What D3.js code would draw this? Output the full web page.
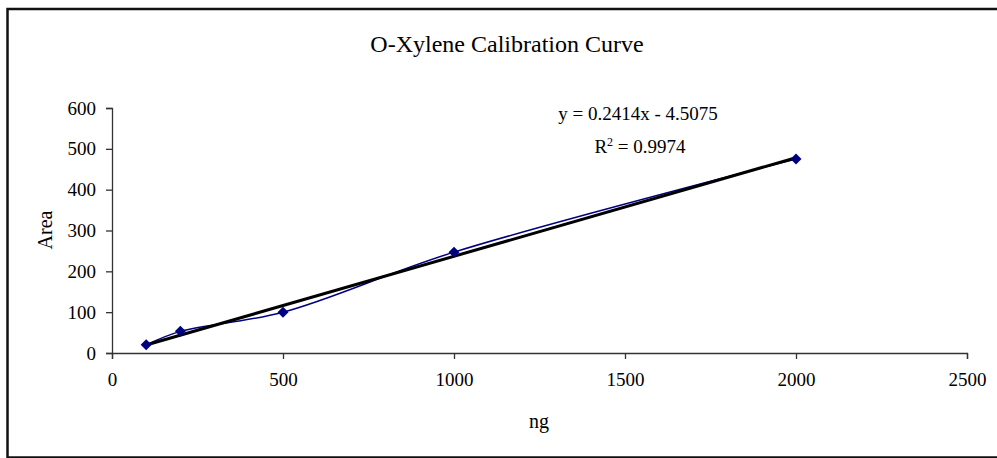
<!DOCTYPE html>
<html>
<head>
<meta charset="utf-8">
<script src="https://cdn.jsdelivr.net/npm/d3@7"></script>
<style>
  body { margin: 0; background: #fff; overflow: hidden; }
  text { font-family: "Liberation Serif", "Times New Roman", serif; fill: #000; }
</style>
</head>
<body>
<div id="chart"></div>
<script>
// Chart data
const ng = [100, 200, 500, 1000, 2000]
const area = [20, 53, 100, 247, 475]
const xTicks = [0, 500, 1000, 1500, 2000, 2500]
const yTicks = [0, 100, 200, 300, 400, 500, 600]
const slope = 0.2414, intercept = -4.5075
const title = 'O-Xylene Calibration Curve'

// Our canvas
const width = 997,
  height = 458

let svg = d3.select('#chart')
  .append('svg')
  .attr('width', width)
  .attr('height', height)

// outer frame (right edge falls outside the picture)
svg.append('rect')
  .attr('x', 7.5)
  .attr('y', 9)
  .attr('width', 1000)
  .attr('height', 448.5)
  .attr('fill', 'none')
  .attr('stroke', '#111')
  .attr('stroke-width', 2.5)

let x = d3.scaleLinear().domain([0, 2500]).range([112, 967])
let y = d3.scaleLinear().domain([0, 600]).range([353, 108])

// axes
svg.append('g')
  .attr('transform', 'translate(0,353)')
  .call(d3.axisBottom(x).tickValues(xTicks).tickSize(6).tickPadding(14).tickFormat(d3.format('d')))
svg.append('g')
  .attr('transform', 'translate(112,0)')
  .call(d3.axisLeft(y).tickValues(yTicks).tickSize(6).tickPadding(10).tickFormat(d3.format('d')))

svg.selectAll('.domain').attr('stroke', '#333').attr('stroke-width', 1.3)
svg.selectAll('.tick line').attr('stroke', '#333').attr('stroke-width', 1.3)
svg.selectAll('.tick text')
  .attr('font-size', 19)
  .attr('font-family', '"Liberation Serif", serif')
  .attr('fill', '#111')

// title and labels
svg.append('text')
  .attr('x', 507).attr('y', 52)
  .attr('text-anchor', 'middle')
  .attr('font-size', 24)
  .text(title)

svg.append('text')
  .attr('x', 539).attr('y', 428)
  .attr('text-anchor', 'middle')
  .attr('font-size', 20)
  .text('ng')

svg.append('text')
  .attr('transform', 'translate(52,230) rotate(-90)')
  .attr('text-anchor', 'middle')
  .attr('font-size', 20)
  .text('Area')

// smoothed series line
let pts = ng.map((d, i) => [d, area[i]])
svg.append('path')
  .datum(pts)
  .attr('fill', 'none')
  .attr('stroke', '#000080')
  .attr('stroke-width', 1.5)
  .attr('d', d3.line().x(d => x(d[0])).y(d => y(d[1])).curve(d3.curveCatmullRom.alpha(0.5)))

// linear trendline
let xs = d3.extent(ng)
svg.append('line')
  .attr('x1', x(xs[0])).attr('y1', y(slope * xs[0] + intercept))
  .attr('x2', x(xs[1])).attr('y2', y(slope * xs[1] + intercept))
  .attr('stroke', '#000')
  .attr('stroke-width', 3)

// diamond markers
svg.selectAll('.pt')
  .data(pts)
  .enter()
  .append('path')
  .attr('class', 'pt')
  .attr('transform', d => `translate(${x(d[0])},${y(d[1])})`)
  .attr('d', 'M0,-5.5L5.5,0L0,5.5L-5.5,0Z')
  .attr('fill', '#000080')

// trendline equation
svg.append('text')
  .attr('x', 638).attr('y', 120)
  .attr('text-anchor', 'middle')
  .attr('font-size', 19)
  .text(`y = ${slope}x - ${Math.abs(intercept)}`)

let r2 = svg.append('text')
  .attr('x', 640).attr('y', 153)
  .attr('text-anchor', 'middle')
  .attr('font-size', 19)
r2.append('tspan').text('R')
r2.append('tspan').attr('baseline-shift', 'super').attr('font-size', 12).text('2')
r2.append('tspan').text(' = 0.9974')
</script>
</body>
</html>
